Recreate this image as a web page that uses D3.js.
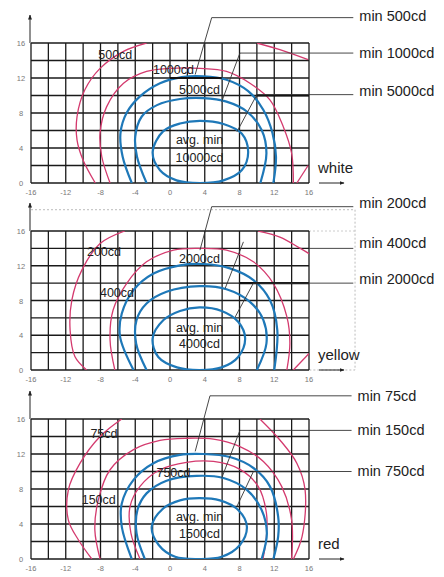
<!DOCTYPE html>
<html>
<head>
<meta charset="UTF-8">
<script src="https://cdn.jsdelivr.net/npm/d3@7"></script>
<style>
body { margin: 0; background: #fff; }
text { font-family: "Liberation Sans", Arial, sans-serif; }
</style>
</head>
<body>
<svg id="chart" width="444" height="577"></svg>
<script>
// tick labels
var xTicks = [-16, -12, -8, -4, 0, 4, 8, 12, 16];
var yTicks = [0, 4, 8, 12, 16];

// contour lines, [x, y] in grid units
var whiteBlue = [
  [[-4.4,0],[-5.45,3],[-5.7,5.7],[-5,8],[-3.45,9.9],[-1.15,11.4],[1.35,12.1],[3.85,12.2],[6.5,11.8],[9,10.5],[10.75,8.35],[11.8,5.7],[12.2,3],[11.9,0]],
  [[-2.7,0],[-3.8,3],[-4,5.3],[-3.25,7.6],[-1.5,8.9],[1.15,9.6],[3.85,9.7],[6.5,9.3],[8.8,8.2],[10.55,6.05],[11.1,3.4],[10.4,0]]
];
var whiteInner = [[-2,3.55],[-0.8,5.9],[1.15,6.8],[3.45,7.1],[6.15,6.75],[8.25,5.65],[9,3.55],[8.25,1.45],[6.15,0.3],[3.45,0],[0.75,0.3],[-1.15,1.45]];
var whitePink = [
  [[-6.9,0],[-7.85,3],[-8.05,5.7],[-7.3,8.7],[-5.35,11.4],[-2.7,12.75],[0,13.1],[3.45,13.1],[6.5,12.75],[9.2,11.4],[11.5,9.5],[13.05,6.4],[14,3.4],[14.2,0]],
  [[-2.7,16],[-5.35,15.05],[-8.05,13.1],[-9.8,10.65],[-10.7,7.6],[-10.7,4.9],[-10,2.6],[-8.6,0]],
  [[10,16],[12.65,15.25],[15.9,14.1]],
  [[14.6,0],[15.9,2]]
];

var yellowBlue = [
  [[-4.2,0],[-5.75,3.85],[-5.55,6.5],[-4.2,9.2],[-1.9,11.1],[1.15,12.05],[3.85,12.2],[6.9,11.7],[9.6,10.35],[11.5,8.05],[12.35,4.6],[12,0]],
  [[-2.7,0],[-3.9,3.05],[-3.85,5.75],[-2.7,7.65],[-0.4,9],[3.4,9.65],[6.5,9.3],[9.2,7.85],[10.75,5.75],[11.1,3.05],[10,0]]
];
var yellowInner = [[-2,3.65],[-0.75,5.75],[1.15,6.8],[3.4,7.2],[5.95,6.8],[7.85,5.55],[8.65,3.65],[7.85,1.5],[5.95,0.3],[3.4,0],[0.8,0.3],[-1.35,1.5]];
var yellowPink = [
  [[-6.35,0],[-6.9,3.45],[-6.55,6.9],[-5,9.95],[-2.7,12.45],[0.4,13.8],[3.45,14],[6.5,13.8],[9.6,12.45],[11.9,9.95],[13.45,6.15],[13.8,3.05],[13.45,0]],
  [[-5.2,16],[-8.05,14.55],[-10.15,11.5],[-11.3,8.05],[-11.5,4.6],[-10.95,1.55],[-9.6,0]],
  [[10.15,16],[12.65,15.3],[15,14],[16,13.4]],
  [[14.2,0],[16,1.9]]
];

var redBlue = [
  [[-4.4,0],[-5.55,3.7],[-5.55,6.35],[-4.2,9.05],[-1.9,10.95],[1.15,11.9],[3.85,12],[6.9,11.65],[9.6,10.4],[11.5,8.3],[12.45,4.85],[12.45,2.55],[11.9,0]],
  [[-2.9,0],[-3.85,2.95],[-3.75,5.6],[-2.7,7.5],[-0.4,8.95],[3.05,9.5],[6.15,9.25],[8.85,7.9],[10.55,5.6],[11.15,2.95],[10.55,0]]
];
var redInner = [[-2.1,3.7],[-0.75,5.8],[1.15,6.7],[3.35,6.95],[5.75,6.7],[7.85,5.6],[8.85,3.7],[8.05,1.6],[5.95,0.25],[3.35,0],[0.6,0.25],[-1.3,1.6]];
var redPink = [
  [[-3.45,0],[-4.5,2.95],[-4.6,6],[-3.45,8.3],[-1.15,10.2],[1.9,11.05],[5,11.15],[8.05,10.25],[10.15,8.3],[11.1,5.25],[11.1,2.55],[10.7,0]],
  [[-8.05,0],[-8.65,3.3],[-8.25,6.75],[-6.9,10.2],[-4.2,12.5],[-1.15,13.55],[1.9,13.8],[5,13.7],[8.05,12.85],[10.75,11.15],[12.85,8.3],[14,4.45],[14,0]],
  [[-5.55,16],[-8.05,14],[-10.35,10.95],[-11.7,7.9],[-11.7,4.45],[-10.55,2.2],[-9,0]],
  [[10.35,16],[12.65,13.6],[14.6,10.95],[15.55,7.9],[15.2,2.55],[14.2,0]]
];

// legend leaders: label, polyline from label end to curve
var whiteLeaders = [
  { label: "min 500cd",  pts: [[21.1,18.9],[4.8,18.9],[2.9,12.4]] },
  { label: "min 1000cd", pts: [[21.1,14.85],[8.05,14.85],[5.95,9.3]] },
  { label: "min 5000cd", pts: [[21.1,10.1],[10,10.1],[7.7,5.85]] }
];
var yellowLeaders = [
  { label: "min 200cd",  pts: [[21.1,18.8],[4.8,18.8],[3.45,13.8]] },
  { label: "min 400cd",  pts: [[21.1,14],[16,14]], extra: [[8.45,14.75],[6.35,9.4]] },
  { label: "min 2000cd", pts: [[21.1,10],[9.6,10],[7.5,6.1]] }
];
var redLeaders = [
  { label: "min 75cd",  pts: [[20.9,18.65],[4.6,18.65],[2.9,12.3]] },
  { label: "min 150cd", pts: [[20.9,14.7],[8.05,14.7],[5.95,9.25]] },
  { label: "min 750cd", pts: [[20.9,10],[9.6,10],[7.7,6]] }
];

var whiteThick = [[[0,12],[5.95,12]], [[10,10],[16,10]]];
var yellowThick = [[[8.05,10],[16,10]]];
var redThick = [];

var whiteTexts = [["500cd",-6.3,14.6],["1000cd",0.4,12.9],["5000cd",3.4,10.6],["avg. min",3.4,4.9],["10000cd",3.4,2.9]];
var yellowTexts = [["200cd",-7.6,13.6],["2000cd",3.4,12.8],["400cd",-6.1,8.9],["avg. min",3.4,4.8],["4000cd",3.4,3.0]];
var redTexts = [["75cd",-7.6,14.3],["150cd",-8.2,6.7],["750cd",0.4,9.8],["avg. min",3.4,4.8],["1500cd",3.4,2.9]];

var panels = [
  { top: 43,  bottom: 183, name: "white",  blue: whiteBlue,  inner: whiteInner,  pink: whitePink,  leaders: whiteLeaders,  thick: whiteThick,  texts: whiteTexts,  labelY: [16, 53, 91] },
  { top: 231, bottom: 370, name: "yellow", blue: yellowBlue, inner: yellowInner, pink: yellowPink, leaders: yellowLeaders, thick: yellowThick, texts: yellowTexts, labelY: [203, 243, 279], box: true },
  { top: 419, bottom: 559, name: "red",    blue: redBlue,    inner: redInner,    pink: redPink,    leaders: redLeaders,    thick: redThick,    texts: redTexts,    labelY: [396, 430, 471] }
];

var svg = d3.select("#chart");
var defs = svg.append("defs");
defs.append("marker").attr("id", "arr").attr("viewBox", "0 0 10 10")
    .attr("refX", 9).attr("refY", 5).attr("markerWidth", 5).attr("markerHeight", 5)
    .attr("orient", "auto")
    .append("path").attr("d", "M0,1L10,5L0,9z").attr("fill", "#222");

panels.forEach(function(p, i) {
  var x = d3.scaleLinear().domain([-16, 16]).range([31, 309]);
  var y = d3.scaleLinear().domain([0, 16]).range([p.bottom, p.top]);
  var g = svg.append("g");
  var line = d3.line().x(function(d) { return x(d[0]); }).y(function(d) { return y(d[1]); });

  defs.append("clipPath").attr("id", "clip" + i).append("rect")
      .attr("x", 31).attr("y", p.top).attr("width", 278).attr("height", p.bottom - p.top);

  if (p.box) {
    g.append("path")
      .attr("d", line([[-16,18.45],[21.3,18.45],[21.3,0],[16,0]]))
      .attr("fill", "none").attr("stroke", "#bbb").attr("stroke-dasharray", "2,2");
    g.append("line").attr("x1", x(16)).attr("x2", x(21.3)).attr("y1", y(16)).attr("y2", y(16))
      .attr("stroke", "#ccc").attr("stroke-dasharray", "2,2");
  }

  // grid
  var gx = d3.range(-16, 17, 2), gy = d3.range(0, 17, 2);
  g.selectAll(".vx").data(gx).join("line")
    .attr("x1", x).attr("x2", x).attr("y1", y(0)).attr("y2", y(16))
    .attr("stroke", "#1a1a1a").attr("stroke-width", 1.3);
  g.selectAll(".hy").data(gy).join("line")
    .attr("y1", y).attr("y2", y).attr("x1", x(-16)).attr("x2", x(16))
    .attr("stroke", "#1a1a1a").attr("stroke-width", 1.3);

  // ticks
  g.selectAll(".xt").data(xTicks).join("text")
    .attr("x", x).attr("y", p.bottom + 12).attr("text-anchor", "middle")
    .attr("font-size", 7.5).attr("fill", "#777").attr("font-family", "DejaVu Serif")
    .text(function(d) { return d; });
  g.selectAll(".yt").data(yTicks).join("text")
    .attr("x", 21).attr("y", function(d) { return y(d) + 3; }).attr("text-anchor", "middle")
    .attr("font-size", 7.5).attr("fill", "#777").attr("font-family", "DejaVu Serif")
    .text(function(d) { return d; });

  // axis arrows
  g.append("line").attr("x1", 30).attr("x2", 30).attr("y1", p.top).attr("y2", p.top - 28)
    .attr("stroke", "#222").attr("marker-end", "url(#arr)");
  g.append("line").attr("x1", 319).attr("x2", 344).attr("y1", p.bottom).attr("y2", p.bottom)
    .attr("stroke", "#222").attr("marker-end", "url(#arr)");
  g.append("text").attr("x", 318).attr("y", p.bottom - 10).attr("font-size", 15)
    .attr("fill", "#222").text(p.name);

  var cg = g.append("g").attr("clip-path", "url(#clip" + i + ")").attr("fill", "none");
  var smooth = line.curve(d3.curveCatmullRom);
  cg.selectAll(".pk").data(p.pink).join("path").attr("d", smooth)
    .attr("stroke", "#d43a6e").attr("stroke-width", 1.3);
  cg.selectAll(".bl").data(p.blue).join("path").attr("d", smooth)
    .attr("stroke", "#1e78b8").attr("stroke-width", 2.2);
  cg.append("path").attr("d", d3.line().x(function(d) { return x(d[0]); }).y(function(d) { return y(d[1]); })
      .curve(d3.curveCatmullRomClosed)(p.inner))
    .attr("stroke", "#1e78b8").attr("stroke-width", 2.2);

  var straight = d3.line().x(function(d) { return x(d[0]); }).y(function(d) { return y(d[1]); });
  p.thick.forEach(function(t) {
    g.append("path").attr("d", straight(t)).attr("stroke", "#111").attr("stroke-width", 2.2);
  });

  // leaders and labels
  p.leaders.forEach(function(l, k) {
    g.append("path").attr("d", straight(l.pts)).attr("fill", "none")
      .attr("stroke", "#333").attr("stroke-width", 0.9);
    if (l.extra) {
      g.append("path").attr("d", straight(l.extra)).attr("fill", "none")
        .attr("stroke", "#333").attr("stroke-width", 0.9);
    }
    g.append("text").attr("x", x(l.pts[0][0]) + 6).attr("y", p.labelY[k] + 5)
      .attr("font-size", 14.5).attr("fill", "#222").text(l.label);
  });

  g.selectAll(".lbl").data(p.texts).join("text")
    .attr("x", function(d) { return x(d[1]); }).attr("y", function(d) { return y(d[2]) + 4; })
    .attr("text-anchor", "middle").attr("font-size", 12.5).attr("fill", "#222")
    .text(function(d) { return d[0]; });
});
</script>
</body>
</html>
